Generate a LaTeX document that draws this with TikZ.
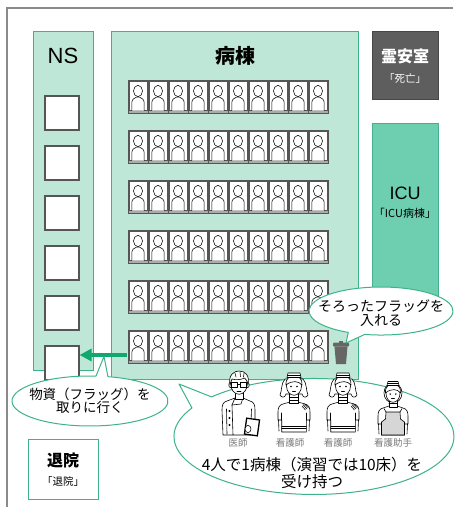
\documentclass[tikz,border=0pt]{standalone}
\usepackage{fontspec}
\setmainfont{Noto Sans CJK JP}
\newfontfamily\latinsans{Liberation Sans}
\usetikzlibrary{arrows.meta}

\definecolor{mint}{HTML}{BFE7D7}
\definecolor{mintline}{HTML}{3DB38A}
\definecolor{icufill}{HTML}{6DCFAF}
\definecolor{iculine}{HTML}{45B08D}
\definecolor{darkroom}{HTML}{5E5E5E}
\definecolor{darkroomline}{HTML}{474747}
\definecolor{arrowgreen}{HTML}{0FA86E}
\definecolor{framegray}{HTML}{8A8A8A}
\definecolor{bedgray}{HTML}{ABABAB}
\definecolor{bedline}{HTML}{555555}
\definecolor{bingray}{HTML}{666666}
\definecolor{labelgray}{HTML}{7A7A7A}
\definecolor{apron}{HTML}{D6D6D6}

\newcommand{\fs}[1]{\fontsize{#1pt}{#1pt}\selectfont}

\tikzset{
  panel/.style={fill=mint, draw=mintline, line width=0.8pt},
  nsbox/.style={fill=white, draw=bedline, line width=1.1pt, minimum width=34pt, minimum height=34pt, inner sep=0pt},
  bubble/.style={fill=white, draw=mintline, line width=1pt, line join=round},
  flow/.style={arrowgreen, line width=3.2pt, -{Triangle[length=12pt,width=12pt]}},
  ink/.style={draw=black, line width=0.6pt, line join=round, line cap=round},
  txt/.style={inner sep=0pt, align=center},
  % one bed with its patient silhouette, origin at the top-left corner
  bed/.pic={
    \draw[fill=bedgray, draw=bedline, line width=0.5pt] (0,0) rectangle (20,33);
    \draw[fill=white, draw=bedline, line width=0.35pt] (1.2,1.2) rectangle (18.8,30.6);
    \draw[ink, line width=0.55pt, fill=white] (3.8,30.6) -- (3.8,23) .. controls (3.8,19.5) and (6,18) .. (8.3,17.2)
      -- (11.7,17.2) .. controls (14,18) and (16.2,19.5) .. (16.2,23) -- (16.2,30.6);
    \draw[ink, line width=0.55pt, fill=white] (10,11) ellipse (4.5 and 5.6);
  },
  % doctor in a white coat, origin at the top centre of the hair
  doctor/.pic={
    \draw[ink, fill=white] (-4,26) -- (-12,29) .. controls (-16,30) and (-17,33) .. (-17,38)
      -- (-16,63) -- (16,63) -- (16,38) .. controls (16,33) and (15,30) .. (11,29) -- (4,26) -- cycle;
    \draw[ink] (-12.5,37) -- (-12,62);
    \draw[ink] (12.5,37) -- (12,50);
    \draw[ink] (-4,26) -- (-7,33) -- (-6,63);
    \draw[ink] (4,26) -- (2,32) -- (-7,33);
    \fill (-9.5,39) circle (1.1) (-9.5,46) circle (1.1) (-9.5,53) circle (1.1);
    \draw[ink, fill=white] (-4,19) -- (-4,27) -- (4,27) -- (4,19);
    \draw[ink, fill=white] (-8.6,13) ellipse (1.6 and 2.6) (8.6,13) ellipse (1.6 and 2.6);
    \draw[ink, fill=white] (0,12) ellipse (8.3 and 10.3);
    \draw[ink, fill=white] (-9,13) .. controls (-11,3) and (-5,-1) .. (0,-1)
      .. controls (6,-1) and (11,3) .. (9,13) .. controls (8.5,9) and (7.5,7.5) .. (5.5,6)
      .. controls (2,8) and (-4,8) .. (-7,7) .. controls (-8,9) and (-8.5,11) .. (-9,13) -- cycle;
    \draw[ink] (-4,1) -- (-3,5) (1,0) -- (1.5,4.5) (5,1.5) -- (4.5,5);
    \draw[ink] (-7.3,10) rectangle (-1.5,15) (1.5,10) rectangle (7.3,15) (-1.5,12) -- (1.5,12);
    \draw[ink] (-2,19) -- (2,19);
    \draw[black, fill=white, line width=1.3pt, rotate around={-8:(13,55)}] (6.5,47) rectangle (19.5,63);
    \draw[ink, fill=white] (9,57) ellipse (3 and 3.6);
  },
  % nurse with cap and bob, origin at the top centre of the cap
  nurse/.pic={
    \draw[ink, fill=white] (-9,6) .. controls (-13,10) and (-12,18) .. (-14,22)
      .. controls (-12,25.5) and (-9,24.5) .. (-8,21) -- (8,21)
      .. controls (9,24.5) and (12,25.5) .. (14,22) .. controls (12,18) and (13,10) .. (9,6) -- cycle;
    \draw[ink, fill=white] (-4,29) -- (-11,31) .. controls (-15,32) and (-16,35) .. (-16,39)
      -- (-16,47) -- (-12.3,47) -- (-12.3,59) -- (12.3,59) -- (12.3,47) -- (16,47) -- (16,39)
      .. controls (16,35) and (15,32) .. (11,31) -- (4,29) -- cycle;
    \draw[ink] (-15.5,47) -- (-15,58) (15.5,47) -- (15,58);
    \draw[ink] (-12.3,53) -- (12.3,53) (-12.3,55.5) -- (12.3,55.5);
    \draw[ink] (-12.3,40) -- (-12.3,47) (12.3,40) -- (12.3,47);
    \draw[ink] (9,31.5) -- (13,36) (10.5,30.8) -- (14.5,35) (8,33) -- (11.5,37);
    \draw[ink, fill=white] (-4.5,20) rectangle (4.5,30.5);
    \draw[ink] (-4.5,24.5) -- (4.5,24.5) (-4.5,27.5) -- (4.5,27.5);
    \draw[ink, fill=white] (0,13) ellipse (7.5 and 9.3);
    \draw[ink, fill=white] (-8,12) .. controls (-8.5,5) and (-4,3) .. (0,3)
      .. controls (5,3) and (8.5,6) .. (8,12) .. controls (5,8) and (-2,7) .. (-8,12) -- cycle;
    \draw[ink, fill=white] (-7,4.5) -- (-6,0) -- (6,0) -- (7,4.5) -- cycle;
    \draw[ink] (-6.5,2.3) -- (6.5,2.3);
    \fill (-3,13.5) circle (0.8) (3,13.5) circle (0.8);
    \draw[ink] (-1.5,18) -- (1.5,18);
  },
  % nursing assistant with apron, origin at the top centre of the cap
  helper/.pic={
    \draw[ink, fill=white] (0,12) ellipse (9 and 10);
    \draw[ink, fill=white] (-4,25) -- (-10,27) .. controls (-14,28) and (-15,31) .. (-15,35)
      -- (-15,43) -- (-11.5,43) -- (-11.5,54) -- (11.5,54) -- (11.5,43) -- (15,43) -- (15,35)
      .. controls (15,31) and (14,28) .. (10,27) -- (4,25) -- cycle;
    \draw[ink, fill=apron] (-7,31) -- (7,31) -- (7.5,38) -- (11.5,41) -- (11.5,54)
      -- (-11.5,54) -- (-11.5,41) -- (-7.5,38) -- cycle;
    \draw[ink] (-7,31) -- (-9,27.5) (7,31) -- (9,27.5);
    \draw[ink] (-14.5,43) -- (-14,53) (14.5,43) -- (14,53);
    \draw[ink, fill=white] (-4,18) rectangle (4,26);
    \draw[ink] (-4,22) -- (4,22);
    \draw[ink, fill=white] (0,12.5) ellipse (7 and 8.8);
    \draw[ink, fill=white] (-7.5,12) .. controls (-8,5) and (-4,3.5) .. (0,3.5)
      .. controls (5,3.5) and (8,6) .. (7.5,12) .. controls (5,8) and (-2,7) .. (-7.5,12) -- cycle;
    \draw[ink, fill=white] (-6,4.5) -- (-5,0.5) -- (5,0.5) -- (6,4.5) -- cycle;
    \draw[ink] (-5.5,2.5) -- (5.5,2.5);
    \fill (-2.8,13) circle (0.8) (2.8,13) circle (0.8);
    \draw[ink] (-1.5,17.5) -- (1.5,17.5);
  }
}

\begin{document}
\begin{tikzpicture}[x=1pt, y=-1pt]
\useasboundingbox (0,0) rectangle (455,507);
\fill[white] (0,0) rectangle (455,507);

% outer wall
\draw[framegray, line width=1.5pt] (7,507) -- (7,8) -- (453,8);

% nurse station and ward panels
\draw[panel] (33,31) rectangle (93,370);
\draw[panel] (111,31) rectangle (358,379);
\node[txt, font=\latinsans\fs{22}] (nslabel) at (63,56) {NS};
\node[txt, font=\bfseries\fs{20}] (wardlabel) at (235,56) {病棟};

% morgue and ICU
\draw[fill=darkroom, draw=darkroomline, line width=0.8pt] (372,31) rectangle (438,99);
\node[txt, text=white, font=\bfseries\fs{16}] (morgue) at (405,56) {霊安室};
\node[txt, text=white, font=\fs{10.5}] (morguesub) at (405,79) {「死亡」};
\draw[fill=icufill, draw=iculine, line width=0.8pt] (372,123) rectangle (438,300);
\node[txt, font=\latinsans\fs{18}] (icu) at (405,193) {ICU};
\node[txt, font=\fs{11}] (icusub) at (405,213) {「ICU病棟」};

% discharge
\draw[fill=white, draw=mintline, line width=1pt] (28,439) rectangle (98,499);
\node[txt, font=\bfseries\fs{16}] (discharge) at (63,460) {退院};
\node[txt, font=\fs{10.5}] (dischargesub) at (63,482) {「退院」};

% station boxes
\foreach \r in {1,...,6}
  \node[nsbox] (ns\r) at (62,{63+50*\r}) {};

% six rows of ten beds
\foreach \r in {0,...,5}
  \foreach \c in {0,...,9}
    \pic at ({128+20*\c},{80+50*\r}) {bed};
\coordinate (row6w) at (127,355);

% flag bin
\fill[bingray, rounded corners=1pt] (333,342.5) rectangle (349,346.5);
\fill[bingray] (339,341) rectangle (343,343);
\fill[bingray] (334.5,346.5) -- (347.5,346.5) -- (346,364) -- (336,364) -- cycle;
\coordinate (bin) at (346,343);

% fetching supplies
\draw[flow] (row6w) -- (ns6.east |- row6w);

% speech bubbles
\draw[bubble] (107.94,376.67) -- (104,356.5) -- (95.98,376.07)
  arc[start angle=-85.6, end angle=-436.7, x radius=78, y radius=25] -- cycle;
\node[txt, font=\fs{13.5}] (fetch) at (90,401) {物資（フラッグ）を\\[-0.5pt]取りに行く};

\draw[bubble] (348.3,332.4) -- (bin) -- (364.8,334.4)
  arc[start angle=103, end angle=-243, x radius=72, y radius=24] -- cycle;
\node[txt, font=\fs{14}] (collect) at (381,313) {そろったフラッグを\\[-0.5pt]入れる};

\draw[bubble] (211.6,396.9) -- (179,384) -- (192.0,408.0)
  arc[start angle=209.4, end angle=-137, x radius=140, y radius=58] -- cycle;

% ward team
\pic at (239,372) {doctor};
\pic at (294,373) {nurse};
\pic at (343,373) {nurse};
\pic at (393,381) {helper};
\node[txt, text=labelgray, font=\fs{9.5}] (lbdoc) at (238,443) {医師};
\node[txt, text=labelgray, font=\fs{9.5}] (lbn1) at (290,443) {看護師};
\node[txt, text=labelgray, font=\fs{9.5}] (lbn2) at (338,443) {看護師};
\node[txt, text=labelgray, font=\fs{9.5}] (lbhelp) at (393,443) {看護助手};
\node[txt, font=\fs{15.5}] (team) at (312,473) {4人で1病棟（演習では10床）を\\[1pt]受け持つ};
\end{tikzpicture}
\end{document}
